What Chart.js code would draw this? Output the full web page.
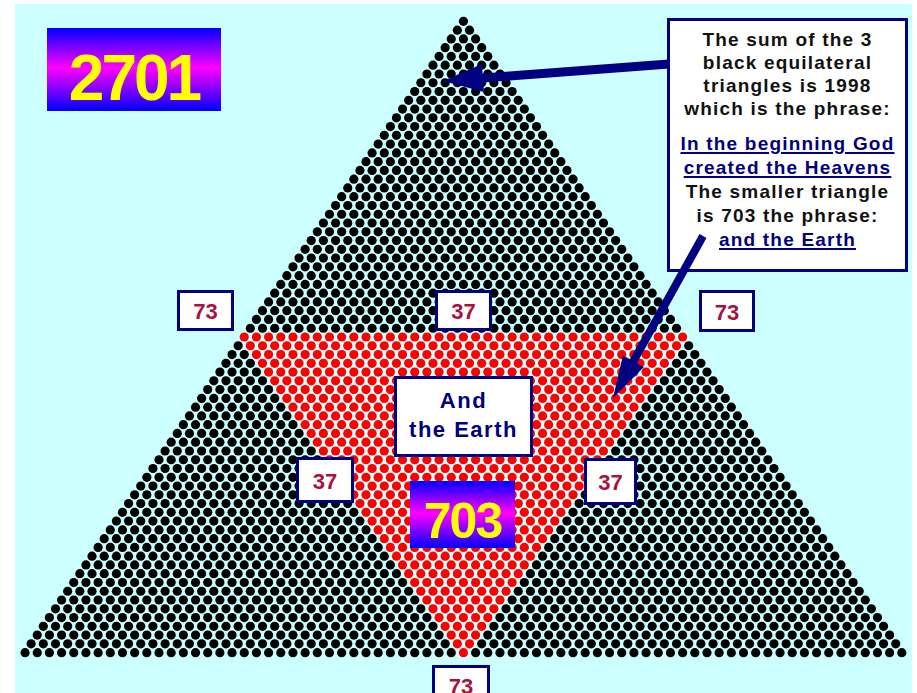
<!DOCTYPE html>
<html>
<head>
<meta charset="utf-8">
<script src="https://cdn.jsdelivr.net/npm/chart.js@4.4.1/dist/chart.umd.min.js"></script>
<style>
    body { margin: 0; background: #fff; }
    #wrap { position: relative; width: 917px; height: 693px; overflow: hidden; font-family: Arial, "Liberation Sans", sans-serif; }
    #sky { position: absolute; left: 15px; top: 4px; width: 897px; height: 689px; background: #ccffff; }
    #myChart { position: absolute; left: 0; top: 0; }
    .tag { position: absolute; box-sizing: border-box; border: 3px solid #000080; background: #fff; color: #a8123e;
           font-weight: bold; font-size: 22px; display: flex; align-items: center; justify-content: center; padding-top: 3px; }
    .big { position: absolute; box-sizing: border-box; background: linear-gradient(#0000ff, #ff00ff 48%, #0000ff);
           color: #ffff00; font-weight: bold; display: flex; align-items: center; justify-content: center; }
    #earth { position: absolute; box-sizing: border-box; left: 394px; top: 376px; width: 139px; height: 81px;
             border: 3px solid #000080; background: #fff; color: #000080; font-weight: bold; font-size: 22px;
             letter-spacing: 1.5px; text-align: center; line-height: 29px; padding-top: 7px; }
    #note { position: absolute; box-sizing: border-box; left: 667px; top: 18px; width: 241px; height: 254px;
            border: 3px solid #000080; background: #fff; color: #111; font-weight: bold; font-size: 19px;
            letter-spacing: 1.2px; text-align: center; padding-top: 7px; }
    #note .a div { height: 23px; line-height: 23px; white-space: nowrap; }
    #note .b { margin-top: 12px; }
    #note .b div { height: 24px; line-height: 24px; white-space: nowrap; }
    #note u { color: #000080; text-decoration-thickness: 2px; text-underline-offset: 2px; }
</style>
</head>
<body>
<div id="wrap">
    <div id="sky"></div>
    <div id="note">
        <div class="a">
            <div>The sum of the 3</div>
            <div>black equilateral</div>
            <div>triangles is 1998</div>
            <div>which is the phrase:</div>
        </div>
        <div class="b">
            <div><u>In the beginning God</u></div>
            <div><u>created the Heavens</u></div>
            <div>The smaller triangle</div>
            <div>is 703 the phrase:</div>
            <div><u>and the Earth</u></div>
        </div>
    </div>
    <canvas id="myChart" width="917" height="693"></canvas>
    <div class="big" id="total" style="left:47px; top:28px; width:174px; height:83px; font-size:64px; letter-spacing:-3px; padding-top:17px;"></div>
    <div class="tag" style="left:177px; top:290px; width:57px; height:41px;"></div>
    <div class="tag" style="left:435px; top:290px; width:57px; height:41px;"></div>
    <div class="tag" style="left:699px; top:290px; width:56px; height:42px;"></div>
    <div class="tag" style="left:296px; top:457px; width:58px; height:46px;"></div>
    <div class="tag" style="left:584px; top:458px; width:53px; height:47px;"></div>
    <div class="tag" style="left:432px; top:665px; width:58px; height:40px;"></div>
    <div id="earth">And<br>the Earth</div>
    <div class="big" id="inner" style="left:410px; top:481px; width:105px; height:67px; font-size:50px; letter-spacing:-2px; padding-top:13px;"></div>
</div>
<script>
// triangle of 2701 = T(73) dots, with an inverted red triangle of 703 = T(37)
const rowCount = 73;
const innerSide = 37;
const totalLabel = '2701';
const innerLabel = '703';
const sideLabels = ['73', '37', '73', '37', '37', '73'];

document.getElementById('total').textContent = totalLabel;
document.getElementById('inner').textContent = innerLabel;
document.querySelectorAll('.tag').forEach((el, i) => { el.textContent = sideLabels[i]; });

const blackDots = [];
const redDots = [];
const innerTop = rowCount - innerSide + 1;
for (let r = 1; r <= rowCount; r++)
{
    for (let k = 1; k <= r; k++)
    {
        const pt = { x: k - (r + 1) / 2, y: r };
        if (r >= innerTop && k >= r - innerSide + 1 && k <= innerSide)
            redDots.push(pt);
        else
            blackDots.push(pt);
    }
}

function drawArrow(ctx, x1, y1, x2, y2, shaftW, headLen, headHalf)
{
    const dx = x2 - x1, dy = y2 - y1;
    const len = Math.hypot(dx, dy);
    const ux = dx / len, uy = dy / len;
    const px = -uy, py = ux;
    const bx = x2 - ux * headLen, by = y2 - uy * headLen;
    const s = shaftW / 2;
    ctx.beginPath();
    ctx.moveTo(x1 + px * s, y1 + py * s);
    ctx.lineTo(bx + px * s, by + py * s);
    ctx.lineTo(bx + px * headHalf, by + py * headHalf);
    ctx.lineTo(x2, y2);
    ctx.lineTo(bx - px * headHalf, by - py * headHalf);
    ctx.lineTo(bx - px * s, by - py * s);
    ctx.lineTo(x1 - px * s, y1 - py * s);
    ctx.closePath();
    ctx.fill();
}

const arrowPlugin = {
    id: 'arrows',
    afterDatasetsDraw(chart)
    {
        const ctx = chart.ctx;
        ctx.save();
        ctx.fillStyle = '#000080';
        drawArrow(ctx, 669, 64, 443, 81, 9, 40, 14);
        drawArrow(ctx, 703, 236, 613, 398, 8, 42, 12);
        ctx.restore();
    }
};

new Chart(document.getElementById('myChart').getContext('2d'), {
    type: 'scatter',
    data: {
        datasets: [
            { data: blackDots, backgroundColor: '#000000', borderWidth: 0, pointRadius: 4.6, pointHoverRadius: 4.6 },
            { data: redDots, backgroundColor: '#ff0000', borderWidth: 0, pointRadius: 4.6, pointHoverRadius: 4.6 }
        ]
    },
    options: {
        responsive: false,
        animation: false,
        events: [],
        layout: { padding: 0 },
        plugins: {
            legend: { display: false },
            tooltip: { enabled: false }
        },
        scales: {
            x: { type: 'linear', display: false, min: -37.68, max: 36.87 },
            y: { type: 'linear', display: false, reverse: true, min: -0.913, max: 77.08 }
        }
    },
    plugins: [arrowPlugin]
});
</script>
</body>
</html>
